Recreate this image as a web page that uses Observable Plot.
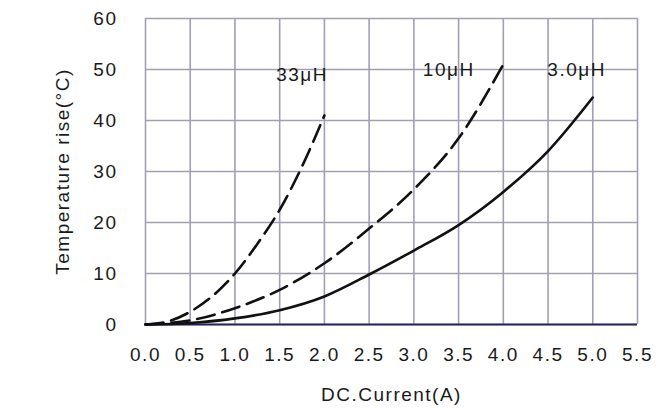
<!DOCTYPE html>
<html><head><meta charset="utf-8">
<script src="https://cdn.jsdelivr.net/npm/d3@7"></script>
<script src="https://cdn.jsdelivr.net/npm/@observablehq/plot@0.6"></script>
<style>html,body{margin:0;padding:0;background:#fff;overflow:hidden}#chart svg{display:block}</style>
</head><body><div id="chart"></div>
<script>
// Tick values
const xTicks = [0, 0.5, 1.0, 1.5, 2.0, 2.5, 3.0, 3.5, 4.0, 4.5, 5.0, 5.5];
const yTicks = [0, 10, 20, 30, 40, 50, 60];

// 33μH (dashed)
const current33 = [0, 0.25, 0.5, 0.75, 1.0, 1.25, 1.5, 1.75, 2.0];
const temp33    = [0, 0.6, 2.5, 5.6, 10, 15.8, 22.5, 31, 41];

// 10μH (dashed)
const current10 = [0, 0.5, 1.0, 1.5, 2.0, 2.5, 3.0, 3.5, 4.0];
const temp10    = [0, 0.8, 3.2, 6.8, 12, 18.8, 26.5, 36.5, 51];

// 3.0μH (solid)
const current3 = [0, 0.5, 1.0, 1.5, 2.0, 2.5, 3.0, 3.5, 4.0, 4.5, 5.0];
const temp3    = [0, 0.3, 1.2, 2.8, 5.5, 9.8, 14.5, 19.5, 26, 34, 44.5];

// Curve labels
const seriesLabels = ["33μH", "10μH", "3.0μH"];
const labelCurrent = [1.75, 3.39, 4.82];
const labelTemp    = [49, 50, 50];

const toRows = (xs, ys) => xs.map((c, i) => ({current: c, temp: ys[i]}));
const rows33 = toRows(current33, temp33);
const rows10 = toRows(current10, temp10);
const rows3  = toRows(current3, temp3);
const labelRows = seriesLabels.map((t, i) => ({label: t, current: labelCurrent[i], temp: labelTemp[i]}));

const gridColor = "#9fa0b4";
const fmt = d => d.toFixed(1);

const chart = Plot.plot({
  width: 656,
  height: 412,
  marginLeft: 145,
  marginRight: 19,
  marginTop: 18,
  marginBottom: 88,
  style: {
    fontFamily: "'Liberation Sans', Arial, sans-serif",
    fontSize: "19px",
    letterSpacing: "1.5px",
    color: "#1a1a1a",
    background: "#fff",
    overflow: "visible"
  },
  x: {domain: [0, 5.5]},
  y: {domain: [0, 60]},
  marks: [
    Plot.gridX(xTicks, {stroke: gridColor, strokeOpacity: 1, strokeWidth: 1.6}),
    Plot.gridY(yTicks, {stroke: gridColor, strokeOpacity: 1, strokeWidth: 1.6}),
    Plot.axisX(xTicks, {tickSize: 0, tickPadding: 23, tickFormat: fmt,
      label: "DC.Current(A)", labelAnchor: "center", labelOffset: 76, labelArrow: "none"}),
    Plot.axisY(yTicks, {tickSize: 0, tickPadding: 28,
      label: "Temperature rise(°C)", labelAnchor: "center", labelOffset: 90, labelArrow: "none"}),
    Plot.ruleY([0], {stroke: "#25255c", strokeWidth: 2.2}),
    Plot.line(rows33, {x: "current", y: "temp", curve: "monotone-x", stroke: "#111",
      strokeWidth: 2.6, strokeDasharray: "18,8"}),
    Plot.line(rows10, {x: "current", y: "temp", curve: "monotone-x", stroke: "#111",
      strokeWidth: 2.6, strokeDasharray: "18,8"}),
    Plot.line(rows3, {x: "current", y: "temp", curve: "monotone-x", stroke: "#111",
      strokeWidth: 2.6}),
    Plot.text(labelRows, {x: "current", y: "temp", text: "label", fill: "#1a1a1a", fontSize: 19})
  ]
});
document.getElementById("chart").appendChild(chart);
</script>
</body></html>
